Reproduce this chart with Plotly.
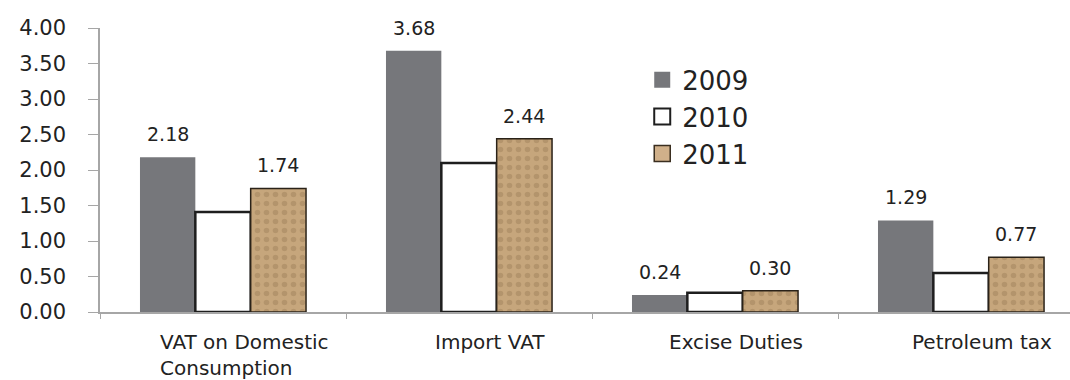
import plotly.graph_objects as go

categories = ["VAT on Domestic Consumption", "Import VAT", "Excise Duties", "Petroleum tax"]
cat_labels = ["VAT on Domestic<br>Consumption", "Import VAT", "Excise Duties", "Petroleum tax"]
years = ["2009", "2010", "2011"]
v2009 = [2.18, 3.68, 0.24, 1.29]
v2010 = [1.41, 2.10, 0.27, 0.55]
v2011 = [1.74, 2.44, 0.30, 0.77]
labelled = {"2009": True, "2010": False, "2011": True}

FONT = "DejaVu Sans"
TXT = "#222222"
AX = "#a6a6a6"

styles = {
    "2009": dict(color="#76777b", line=dict(color="#76777b", width=0)),
    "2010": dict(color="#ffffff", line=dict(color="#1e1e1e", width=2.5)),
    "2011": dict(color="#c0a075", line=dict(color="#2a2218", width=1.5),
                 pattern=dict(shape=".", fgcolor="#7d5e3c", fgopacity=0.25, size=9, solidity=0.3, bgcolor="#c6a67c")),
}
legend_styles = {
    "2009": dict(color="#76777b", line=dict(color="#76777b", width=0)),
    "2010": dict(color="#ffffff", line=dict(color="#1e1e1e", width=2)),
    "2011": dict(color="#d0b08a", line=dict(color="#3a2e20", width=1.5)),
}
series = {"2009": v2009, "2010": v2010, "2011": v2011}

fig = go.Figure()
for i, yr in enumerate(years):
    fig.add_trace(go.Bar(name=yr, x=categories, y=series[yr], marker=styles[yr],
                         showlegend=False, hoverinfo="x+y"))
for i, yr in enumerate(years):
    fig.add_trace(go.Scatter(name=yr, x=[categories[0]], y=[None], mode="markers",
                             marker=dict(symbol="square", size=18, **legend_styles[yr]),
                             legendgroup=yr, showlegend=True))

bargap = 0.325
bar_px = 246 * (1 - bargap) / 3
annotations = []
for i, yr in enumerate(years):
    if not labelled[yr]:
        continue
    for c, v in zip(categories, series[yr]):
        annotations.append(dict(x=c, y=v, xref="x", yref="y", text=f"{v:.2f}", showarrow=False,
                                xshift=(i - 1) * bar_px, yshift=10, yanchor="bottom",
                                font=dict(family=FONT, size=19, color=TXT)))
for c, lab in zip(categories, cat_labels):
    annotations.append(dict(x=c, y=0, xref="paper" if False else "x", yref="paper", text=lab,
                            showarrow=False, xshift=21, yshift=-16, yanchor="top", align="left",
                            font=dict(family=FONT, size=20, color=TXT)))

fig.update_layout(
    width=1070, height=380,
    margin=dict(l=100, r=0, t=28, b=68, pad=0),
    paper_bgcolor="white", plot_bgcolor="white",
    barmode="group", bargap=bargap, bargroupgap=0,
    showlegend=True,
    legend=dict(x=0.559, y=0.9, xanchor="left", yanchor="top", bgcolor="rgba(0,0,0,0)",
                font=dict(family=FONT, size=26, color=TXT), traceorder="grouped",
                tracegroupgap=0, itemsizing="trace"),
    annotations=annotations,
    xaxis=dict(type="category", range=[-0.5, 3.443], showticklabels=False,
               tickson="boundaries", ticks="outside", ticklen=5, tickcolor=AX,
               showline=True, linecolor=AX, linewidth=1.5, showgrid=False, zeroline=False),
    yaxis=dict(range=[0, 4], dtick=0.5, tick0=0, tickformat=".2f", ticks="outside",
               ticklen=10, tickcolor=AX, showline=True, linecolor=AX, linewidth=1.5,
               showgrid=False, zeroline=False, ticklabelstandoff=18,
               tickfont=dict(family=FONT, size=21, color=TXT)),
    font=dict(family=FONT, color=TXT),
)

fig.write_html("out.html")
